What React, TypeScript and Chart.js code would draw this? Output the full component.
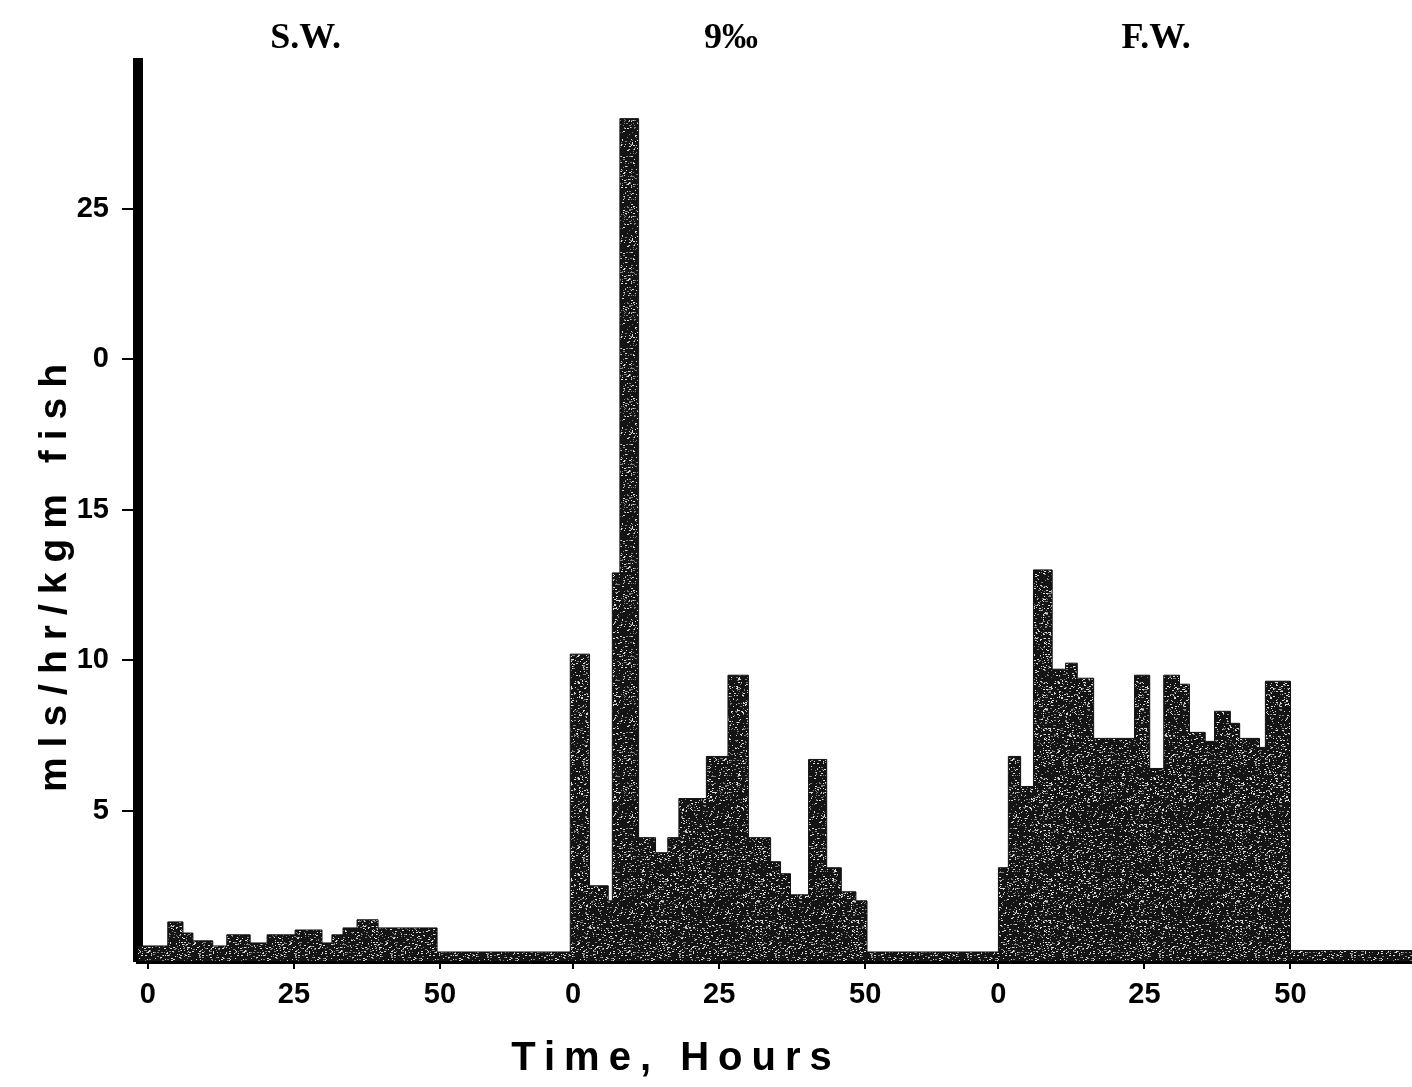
import React, { useEffect, useRef } from 'react';
import { Chart, registerables } from 'chart.js';

Chart.register(...registerables);

// ---- data (hours from the start of each panel, value in mls/hr/kgm fish) ----
const panelNames = ['S.W.', '9‰', 'F.W.'];
const panelOffsets = [0, 72.8, 145.6]; // where each panel's hour 0 lies on the shared time axis
const panelLabelHour = 27;
const xTickHours = [0, 25, 50];
const yTickValues = [5, 10, 15, 20, 25];
const yTickLabels = ['5', '10', '15', '0', '25'];
const yTitle = 'mls/hr/kgm fish';
const xTitle = 'Time, Hours';

const swHours = [-1.7, 3.4, 6.0, 7.7, 11.1, 13.5, 17.5, 20.4, 25.2, 29.8, 31.5, 33.4, 35.8, 39.4, 49.5];
const swValues = [0.5, 1.3, 0.93, 0.67, 0.5, 0.87, 0.6, 0.87, 1.03, 0.6, 0.87, 1.1, 1.37, 1.1, 0.3];

const brackishHours = [-0.5, 2.8, 6.0, 6.7, 8.0, 11.2, 14.1, 16.2, 18.1, 22.8, 26.5, 30.0, 33.8, 35.5, 37.2, 40.3, 43.4, 45.9, 48.4, 50.3];
const brackishValues = [10.2, 2.5, 2.0, 12.9, 28.0, 4.1, 3.6, 4.1, 5.4, 6.8, 9.5, 4.1, 3.3, 2.9, 2.2, 6.7, 3.1, 2.3, 2.0, 0.3];

const fwHours = [0, 1.7, 3.8, 6.0, 9.2, 11.5, 13.5, 16.3, 23.3, 25.9, 28.3, 31.0, 32.7, 35.4, 37.0, 39.7, 41.3, 44.7, 45.7, 50.0, 70.8];
const fwValues = [3.1, 6.8, 5.8, 13.0, 9.7, 9.9, 9.4, 7.4, 9.5, 6.4, 9.5, 9.2, 7.6, 7.3, 8.3, 7.9, 7.4, 7.1, 9.3, 0.35, 0.35];

const X_MIN = -1.7;
const X_MAX = 216.4;
const Y_MAX = 29.85;

function buildPoints() {
  const panels = [
    [swHours, swValues],
    [brackishHours, brackishValues],
    [fwHours, fwValues],
  ];
  const pts: { x: number; y: number }[] = [];
  panels.forEach(([hours, values], i) => {
    hours.forEach((h, j) => pts.push({ x: panelOffsets[i] + h, y: values[j] }));
  });
  return pts;
}

function makeSpeckle(ctx: CanvasRenderingContext2D) {
  const size = 96;
  const c = document.createElement('canvas');
  c.width = size;
  c.height = size;
  const g = c.getContext('2d')!;
  g.fillStyle = '#141414';
  g.fillRect(0, 0, size, size);
  let s = 20240607;
  const next = () => {
    s = (Math.imul(s, 1103515245) + 12345) >>> 0;
    return s / 4294967296;
  };
  for (let i = 0; i < 1250; i++) {
    const x = Math.floor(next() * size);
    const y = Math.floor(next() * size);
    g.fillStyle = next() < 0.5 ? '#d8d8d8' : '#808080';
    g.fillRect(x, y, next() < 0.35 ? 2 : 1, 1);
  }
  return ctx.createPattern(c, 'repeat');
}

const titlesPlugin = {
  id: 'paneltitles',
  afterDraw(chart: any) {
    const { ctx, scales } = chart;
    const x = scales.x;
    ctx.save();
    ctx.fillStyle = '#000';
    ctx.textAlign = 'center';
    ctx.textBaseline = 'middle';
    ctx.font = 'bold 36px "Liberation Serif", "Times New Roman", serif';
    panelNames.forEach((name, i) => {
      ctx.fillText(name, x.getPixelForValue(panelOffsets[i] + panelLabelHour), 39);
    });
    ctx.font = 'bold 40px "Liberation Sans", Arial, sans-serif';
    (ctx as any).letterSpacing = '9px';
    ctx.fillText(xTitle, 676, 1059);
    ctx.translate(55, 578);
    ctx.rotate(-Math.PI / 2);
    ctx.font = 'bold 39px "Liberation Sans", Arial, sans-serif';
    (ctx as any).letterSpacing = '10px';
    ctx.fillText(yTitle, 5, 0);
    ctx.restore();
  },
};

export default function App() {
  const ref = useRef<HTMLCanvasElement>(null);
  useEffect(() => {
    const canvas = ref.current!;
    const ctx = canvas.getContext('2d')!;
    const pattern = makeSpeckle(ctx);
    const xTicks: number[] = [];
    const xLabels: string[] = [];
    panelOffsets.forEach((off) => {
      xTickHours.forEach((h) => {
        xTicks.push(off + h);
        xLabels.push(String(h));
      });
    });
    const tickFont = { family: '"Liberation Sans", Arial, sans-serif', size: 29, weight: 'bold' as const };
    const chart = new Chart(ctx, {
      type: 'line',
      data: {
        datasets: [
          {
            data: buildPoints(),
            stepped: true,
            fill: 'origin',
            backgroundColor: pattern as any,
            borderColor: '#111',
            borderWidth: 1,
            pointRadius: 0,
          },
        ],
      },
      plugins: [titlesPlugin],
      options: {
        animation: false,
        responsive: true,
        maintainAspectRatio: false,
        layout: { padding: { top: 63, right: 0, bottom: 0, left: 0 } },
        plugins: { legend: { display: false }, tooltip: { enabled: false } },
        scales: {
          x: {
            type: 'linear',
            min: X_MIN,
            max: X_MAX,
            afterBuildTicks: (scale: any) => {
              scale.ticks = xTicks.map((v) => ({ value: v }));
            },
            afterFit: (scale: any) => {
              scale.height = 126;
            },
            ticks: {
              autoSkip: false,
              maxRotation: 0,
              padding: 9,
              color: '#000',
              font: tickFont,
              callback: (_v: any, i: number) => xLabels[i],
            },
            grid: { display: true, drawOnChartArea: false, drawTicks: true, tickLength: 8, color: '#000', lineWidth: 2 },
            border: { display: true, color: '#000', width: 5 },
          },
          y: {
            type: 'linear',
            min: 0,
            max: Y_MAX,
            afterBuildTicks: (scale: any) => {
              scale.ticks = yTickValues.map((v) => ({ value: v }));
            },
            afterFit: (scale: any) => {
              scale.width = 138;
            },
            ticks: {
              padding: 13,
              color: '#000',
              font: tickFont,
              callback: (_v: any, i: number) => yTickLabels[i],
            },
            grid: { display: true, drawOnChartArea: false, drawTicks: true, tickLength: 16, color: '#000', lineWidth: 2 },
            border: { display: true, color: '#000', width: 10 },
          },
        },
      },
    });
    return () => chart.destroy();
  }, []);
  return (
    <div style={{ position: 'fixed', left: 0, top: 0, width: 1412, height: 1087, background: '#fff' }}>
      <canvas ref={ref} />
    </div>
  );
}
